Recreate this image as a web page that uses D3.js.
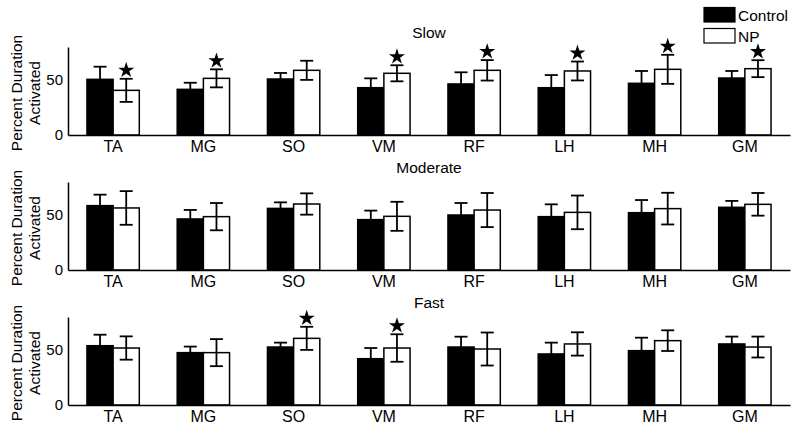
<!DOCTYPE html>
<html>
<head>
<meta charset="utf-8">
<script src="https://cdn.jsdelivr.net/npm/d3@7"></script>
<style>
  html, body { margin: 0; padding: 0; background: #fff; }
  text { font-family: Arial, "Liberation Sans", sans-serif; fill: #000; }
</style>
</head>
<body>
<svg id="chart" width="800" height="431"></svg>
<script>
// ---- data ----
const categories = ["TA", "MG", "SO", "VM", "RF", "LH", "MH", "GM"];
const groups = ["Control", "NP"];
const panelTitles = ["Slow", "Moderate", "Fast"];
const yTicks = [0, 50];

const slowControl    = [50.6, 41.5, 50.9, 43.0, 46.4, 43.0, 47.0, 51.8];
const slowControlErr = [11.5,  6.0,  5.5,  8.5, 10.6, 11.5, 11.2,  6.4];
const slowNP         = [40.6, 51.5, 58.8, 56.1, 58.8, 58.2, 59.7, 60.3];
const slowNPErr      = [10.5,  8.2,  8.7,  7.3,  9.3,  8.6, 13.2,  7.7];
const slowSig        = [true, true, false, true, true, true, true, true];

const modControl     = [58.5, 46.4, 56.0, 45.8, 50.0, 48.5, 52.1, 57.0];
const modControlErr  = [10.0,  8.2,  5.5,  8.2, 10.9, 11.2, 11.5,  5.8];
const modNP          = [56.4, 48.5, 60.0, 48.8, 54.5, 52.4, 55.8, 59.7];
const modNPErr       = [15.3, 12.4,  9.7, 13.2, 15.5, 15.3, 14.4, 10.3];
const modSig         = [false, false, false, false, false, false, false, false];

const fastControl    = [53.9, 47.6, 52.7, 42.1, 52.7, 46.4, 49.4, 55.5];
const fastControlErr = [10.0,  5.5,  4.0,  9.7,  9.4, 10.3, 11.8,  6.7];
const fastNP         = [51.8, 47.6, 60.6, 51.8, 50.9, 55.5, 58.5, 52.7];
const fastNPErr      = [10.6, 12.3, 10.5, 12.5, 15.0, 10.6,  9.4,  9.5];
const fastSig        = [false, false, true, true, false, false, false, false];

const panels = [
  { title: panelTitles[0], control: slowControl, controlErr: slowControlErr, np: slowNP, npErr: slowNPErr, sig: slowSig },
  { title: panelTitles[1], control: modControl,  controlErr: modControlErr,  np: modNP,  npErr: modNPErr,  sig: modSig },
  { title: panelTitles[2], control: fastControl, controlErr: fastControlErr, np: fastNP, npErr: fastNPErr, sig: fastSig }
];

// ---- layout ----
const svg = d3.select("#chart");
const left = 68, right = 790;
const baselines = [135, 270, 405];
const axisH = 88;
const yMax = 80;

const x0 = d3.scaleBand().domain(categories).range([left, right])
  .paddingInner(0.42).paddingOuter(0.21);
const x1 = d3.scaleBand().domain(groups).range([0, x0.bandwidth()]);
const fillColor = { Control: "#000", NP: "#fff" };

panels.forEach((p, i) => {
  const base = baselines[i];
  const y = d3.scaleLinear().domain([0, yMax]).range([base, base - axisH]);
  const g = svg.append("g");

  const rows = categories.map((c, j) => ([
    { cat: c, grp: "Control", v: p.control[j], e: p.controlErr[j], sig: false },
    { cat: c, grp: "NP", v: p.np[j], e: p.npErr[j], sig: p.sig[j] }
  ])).flat();

  // bars
  g.selectAll("rect.bar").data(rows).join("rect")
    .attr("class", "bar")
    .attr("x", d => x0(d.cat) + x1(d.grp))
    .attr("y", d => y(d.v))
    .attr("width", x1.bandwidth())
    .attr("height", d => y(0) - y(d.v))
    .attr("fill", d => fillColor[d.grp])
    .attr("stroke", "#000")
    .attr("stroke-width", 1.5);

  // error bars
  const cap = 6.5;
  const eb = g.selectAll("g.eb").data(rows).join("g").attr("class", "eb")
    .attr("transform", d => `translate(${x0(d.cat) + x1(d.grp) + x1.bandwidth() / 2},0)`);
  eb.append("line").attr("x1", 0).attr("x2", 0)
    .attr("y1", d => y(d.v - d.e)).attr("y2", d => y(d.v + d.e))
    .attr("stroke", "#000").attr("stroke-width", 1.8);
  eb.append("line").attr("x1", -cap).attr("x2", cap)
    .attr("y1", d => y(d.v + d.e)).attr("y2", d => y(d.v + d.e))
    .attr("stroke", "#000").attr("stroke-width", 1.8);
  eb.append("line").attr("x1", -cap).attr("x2", cap)
    .attr("y1", d => y(d.v - d.e)).attr("y2", d => y(d.v - d.e))
    .attr("stroke", "#000").attr("stroke-width", 1.8);

  // significance stars
  g.selectAll("path.star").data(rows.filter(d => d.sig)).join("path")
    .attr("class", "star")
    .attr("d", d3.symbol().type(d3.symbolStar).size(80))
    .attr("transform", d => `translate(${x0(d.cat) + x1(d.grp) + x1.bandwidth() / 2},${y(d.v + d.e) - 8.5})`)
    .attr("fill", "#000");

  // axes
  const yAxis = d3.axisLeft(y).tickValues(yTicks).tickSize(0).tickPadding(5);
  const ya = g.append("g").attr("transform", `translate(${left},0)`).call(yAxis);
  ya.select(".domain").attr("stroke", "#000").attr("stroke-width", 1.5);
  ya.selectAll("text").attr("font-size", 15).attr("font-family", "Arial, 'Liberation Sans', sans-serif");

  const xAxis = d3.axisBottom(x0).tickSize(0).tickPadding(6);
  const xa = g.append("g").attr("transform", `translate(0,${base})`).call(xAxis);
  xa.select(".domain").attr("stroke", "#000").attr("stroke-width", 1.5);
  xa.selectAll("text").attr("font-size", 16).attr("font-family", "Arial, 'Liberation Sans', sans-serif");

  // title
  g.append("text").attr("x", (left + right) / 2).attr("y", base - axisH - 9)
    .attr("text-anchor", "middle").attr("font-size", 15.5).text(p.title);

  // y label
  const cy = base - axisH / 2 + 2;
  const yl = g.append("text").attr("transform", `translate(0,${cy}) rotate(-90)`)
    .attr("text-anchor", "middle").attr("font-size", 15.5);
  yl.append("tspan").attr("x", 0).attr("y", 22).text("Percent Duration");
  yl.append("tspan").attr("x", 0).attr("y", 40).text("Activated");
});

// legend
const leg = svg.append("g");
groups.forEach((grp, i) => {
  const ly = 7.5 + i * 21;
  leg.append("rect").attr("x", 704).attr("y", ly).attr("width", 31).attr("height", 14.5)
    .attr("fill", fillColor[grp]).attr("stroke", "#000").attr("stroke-width", 1.2);
  leg.append("text").attr("x", 738).attr("y", ly + 13).attr("font-size", 15.5).text(grp);
});
</script>
</body>
</html>
